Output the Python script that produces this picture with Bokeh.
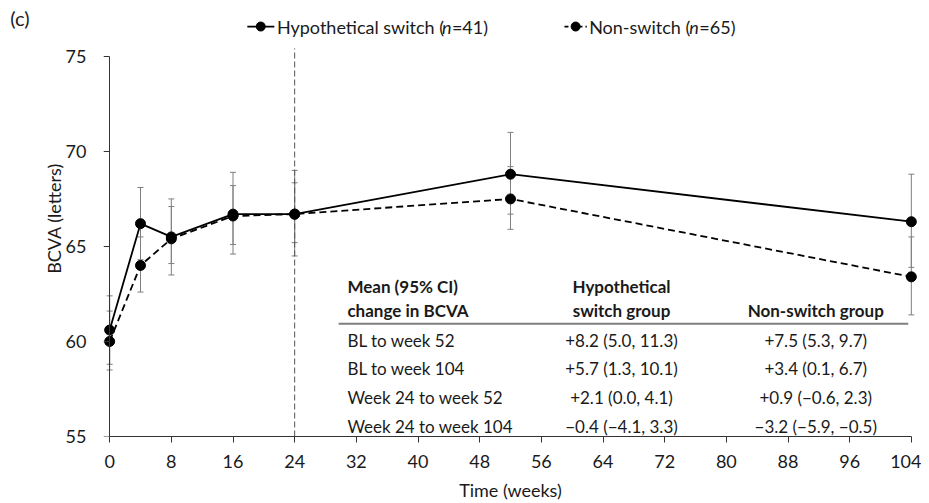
from bokeh.plotting import figure
from bokeh.models import Range1d, Label, Whisker, ColumnDataSource, TeeHead, FixedTicker, LinearAxis
from bokeh.embed import file_html
from bokeh.resources import INLINE

# ---------------- data ----------------
weeks = [0, 4, 8, 16, 24, 52, 104]
switch_mean = [60.6, 66.2, 65.5, 66.7, 66.7, 68.8, 66.3]
switch_lo = [58.8, 64.3, 63.5, 64.6, 64.5, 66.7, 63.9]
switch_hi = [62.4, 68.1, 67.5, 68.9, 69.0, 71.0, 68.8]
non_mean = [60.0, 64.0, 65.4, 66.6, 66.7, 67.5, 63.4]
non_lo = [58.5, 62.6, 64.1, 65.1, 65.2, 65.9, 61.4]
non_hi = [61.6, 65.5, 67.1, 68.2, 68.35, 69.2, 65.5]

x_ticks = [0, 8, 16, 24, 32, 40, 48, 56, 64, 72, 80, 88, 96, 104]
y_ticks = [55, 60, 65, 70, 75]
switch_week = 24

table_header = ["Mean (95% CI)", "change in BCVA"]
col2_header = ["Hypothetical", "switch group"]
col3_header = ["Non-switch group"]
row_labels = ["BL to week 52", "BL to week 104", "Week 24 to week 52", "Week 24 to week 104"]
switch_change = ["+8.2 (5.0, 11.3)", "+5.7 (1.3, 10.1)", "+2.1 (0.0, 4.1)", "\u22120.4 (\u22124.1, 3.3)"]
non_change = ["+7.5 (5.3, 9.7)", "+3.4 (0.1, 6.7)", "+0.9 (\u22120.6, 2.3)", "\u22123.2 (\u22125.9, \u22120.5)"]

FONT = "Lato"
GRAY = "#7f7f7f"
TXT = "#1a1a1a"

p = figure(width=921, height=503, output_backend="svg", toolbar_location=None,
           x_range=Range1d(-0.8, 104.8), y_range=Range1d(55, 77.94),
           min_border_left=103, min_border_right=4, min_border_top=0, min_border_bottom=66)
p.outline_line_color = None
p.xgrid.visible = False
p.ygrid.visible = False

for ax in (p.xaxis, p.yaxis):
    ax.major_label_text_font = FONT
    ax.major_label_text_font_size = "18px"
    ax.major_label_text_color = TXT
    ax.axis_label_text_font = FONT
    ax.axis_label_text_font_size = "18px"
    ax.axis_label_text_font_style = "normal"
    ax.axis_label_text_color = TXT
    ax.minor_tick_line_color = None
    ax.minor_tick_out = 0

# x axis
p.xaxis.ticker = FixedTicker(ticks=x_ticks)
p.xaxis.bounds = (0, 104)
p.xaxis.axis_line_color = "#333333"
p.xaxis.major_tick_line_color = "#333333"
p.xaxis.major_tick_in = 0
p.xaxis.major_tick_out = 6
p.xaxis.axis_label = "Time (weeks)"
p.xaxis.major_label_standoff = 12
p.xaxis.axis_label_standoff = 8

# y axis: labels only (at frame edge)
p.yaxis.ticker = FixedTicker(ticks=y_ticks)
p.yaxis.axis_label = "BCVA (letters)"
p.yaxis.axis_line_color = None
p.yaxis.major_tick_line_color = None
p.yaxis.major_tick_in = 0
p.yaxis.major_tick_out = 0
p.yaxis.major_label_standoff = 17
p.yaxis.axis_label_standoff = -2

# panel label "(c)"
cax = LinearAxis(ticker=FixedTicker(ticks=[77]), major_label_overrides={77: "(c)"},
                 axis_line_color=None, major_tick_line_color=None, minor_tick_line_color=None,
                 major_tick_out=0, minor_tick_out=0, major_tick_in=0, major_label_standoff=10,
                 major_label_text_font=FONT, major_label_text_font_size="20px",
                 major_label_text_color=TXT)
p.add_layout(cax, "left")

# y axis line + ticks located exactly at week 0
lax = LinearAxis(ticker=FixedTicker(ticks=y_ticks), fixed_location=0, bounds=(55, 75),
                 axis_line_color="#333333", major_tick_line_color="#333333",
                 minor_tick_line_color=None, major_tick_in=0, major_tick_out=6, minor_tick_out=0,
                 major_label_text_font_size="0px", major_label_text_color=None,
                 major_label_standoff=0)
p.add_layout(lax, "left")

# vertical dashed line at week 24
p.segment(x0=[switch_week], y0=[55], x1=[switch_week], y1=[75.42], line_color="#555555",
          line_width=1, line_dash="6 3")

# error bars
for lo, hi in ((switch_lo, switch_hi), (non_lo, non_hi)):
    src = ColumnDataSource(dict(x=weeks, lower=lo, upper=hi))
    w = Whisker(base="x", lower="lower", upper="upper", source=src, dimension="height",
                line_color=GRAY, line_width=1,
                upper_head=TeeHead(size=6, line_color=GRAY, line_width=1),
                lower_head=TeeHead(size=6, line_color=GRAY, line_width=1))
    p.add_layout(w)

# lines and markers
p.line(weeks, non_mean, line_color="black", line_width=1.8, line_dash="7 4")
p.line(weeks, switch_mean, line_color="black", line_width=1.8)
p.scatter(weeks, non_mean, size=10, color="black")
p.scatter(weeks, switch_mean, size=10, color="black")

# legend (top)
ly = 76.57
p.segment(x0=[17.86], y0=[ly], x1=[21.36], y1=[ly], line_color="black", line_width=1.8)
p.scatter([19.6], [ly], size=9, color="black")
p.segment(x0=[59.0], y0=[ly], x1=[61.9], y1=[ly], line_color="black", line_width=1.8, line_dash="4 3")
p.scatter([60.45], [ly], size=9, color="black")


def lab(x, y, text, size="17px", style="normal", align="left"):
    p.add_layout(Label(x=x, y=y, text=text, text_font=FONT, text_font_size=size,
                       text_font_style=style, text_align=align, text_baseline="middle",
                       text_color=TXT))


lab(21.7, ly, "Hypothetical switch (", "18px")
lab(21.7 + 21.4, ly, "n", "18px", "italic")
lab(21.7 + 22.7, ly, "=41)", "18px")
lab(62.2, ly, "Non-switch (", "18px")
lab(62.2 + 13.0, ly, "n", "18px", "italic")
lab(62.2 + 14.3, ly, "=65)", "18px")

# table
c1, c2, c3 = 30.84, 66.4, 91.6
hy = [62.87, 61.61]
for t, y in zip(table_header, hy):
    lab(c1, y, t, style="bold")
for t, y in zip(col2_header, hy):
    lab(c2, y, t, style="bold", align="center")
lab(c3, hy[1], col3_header[0], style="bold", align="center")
p.segment(x0=[29.7], y0=[60.93], x1=[103.6], y1=[60.93], line_color=GRAY, line_width=2)
ry = [60.04, 58.57, 57.05, 55.52]
for r, a, b, y in zip(row_labels, switch_change, non_change, ry):
    lab(c1, y, r)
    lab(c2, y, a, align="center")
    lab(c3, y, b, align="center")

open("out.html", "w").write(file_html(p, INLINE))
